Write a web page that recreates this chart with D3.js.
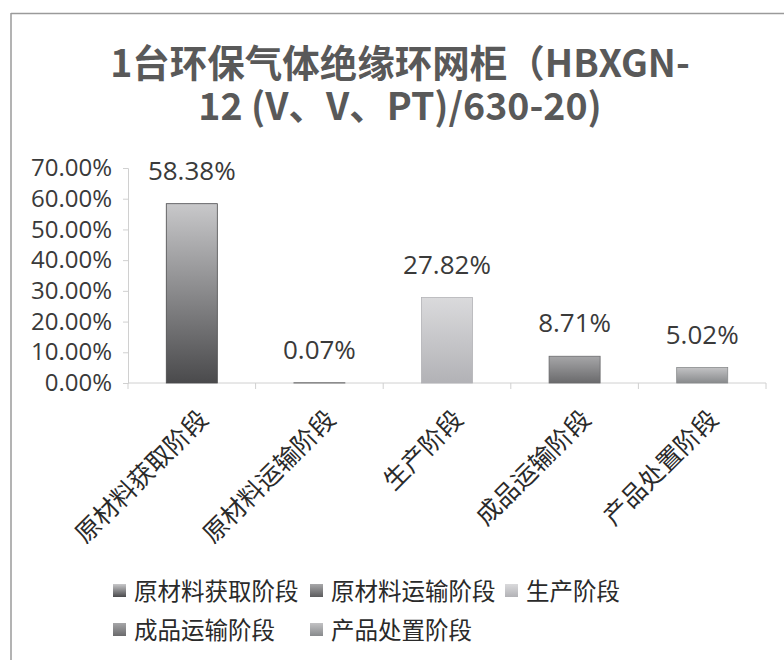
<!DOCTYPE html>
<html>
<head>
<meta charset="utf-8">
<script src="https://cdn.jsdelivr.net/npm/d3@7"></script>
<style>
  body { margin: 0; background: #fff; }
  text { font-family: "Noto Sans CJK SC", "Noto Sans", sans-serif; }
</style>
</head>
<body>
<div id="chart"></div>
<script>
// chart data
var categories = ["原材料获取阶段", "原材料运输阶段", "生产阶段", "成品运输阶段", "产品处置阶段"];
var values = [0.5838, 0.0007, 0.2782, 0.0871, 0.0502];
var yTicks = [0, 0.1, 0.2, 0.3, 0.4, 0.5, 0.6, 0.7];
var titleLines = ["1台环保气体绝缘环网柜（HBXGN-", "12 (V、V、PT)/630-20)"];
// grey gradients as they come out of the scan: [top, bottom]
var barShades = [["#c8c8ca", "#4a4a4c"], ["#a8a8aa", "#5c5c5e"], ["#dadadc", "#b2b2b6"], ["#a6a6a8", "#6a6a6c"], ["#c2c2c4", "#888a8c"]];

var w = 784, h = 660;
var svg = d3.select("#chart").append("svg").attr("width", w).attr("height", h);
var defs = svg.append("defs");

// frame lines from the scanned page
svg.append("line").attr("x1", 11).attr("x2", 784).attr("y1", 13.5).attr("y2", 13.5)
  .attr("stroke", "#9a9a9a").attr("stroke-width", 1.5);
svg.append("line").attr("x1", 11).attr("x2", 11).attr("y1", 13).attr("y2", 660)
  .attr("stroke", "#9a9a9a").attr("stroke-width", 1.5);

// title, two lines in one text element
svg.append("text")
  .attr("text-anchor", "middle")
  .style("font-size", "37.5px")
  .style("font-weight", "bold")
  .attr("fill", "#595959")
  .selectAll("tspan").data(titleLines).enter().append("tspan")
  .attr("x", 400)
  .attr("y", function(d, i) { return 77 + i * 43; })
  .text(function(d) { return d; });

var x = d3.scaleBand().domain(categories).range([128, 766]).paddingInner(0.6).paddingOuter(0.3);
var y = d3.scaleLinear().domain([0, 0.7]).range([383, 168]);

// y axis
var yAxis = svg.append("g")
  .attr("transform", "translate(128,0)")
  .call(d3.axisLeft(y).tickValues(yTicks).tickFormat(d3.format(".2%")).tickSize(5).tickPadding(11));
yAxis.select(".domain").attr("stroke", "#d0d0d0");
yAxis.selectAll(".tick line").attr("stroke", "#d0d0d0");
yAxis.selectAll(".tick text")
  .style("font-family", "'Open Sans', 'Noto Sans', sans-serif")
  .style("font-size", "24px")
  .attr("fill", "#3a3a3a");

// x axis baseline and category separators
var step = x.step();
var edges = categories.map(function(c) { return x(c) - step * x.paddingInner() / 2; });
edges.push(x.range()[1]);
svg.append("line").attr("x1", 128).attr("x2", 766).attr("y1", y(0)).attr("y2", y(0))
  .attr("stroke", "#d0d0d0");
svg.append("g").selectAll("line").data(edges).enter().append("line")
  .attr("x1", function(d) { return d; }).attr("x2", function(d) { return d; })
  .attr("y1", y(0)).attr("y2", y(0) + 6)
  .attr("stroke", "#d0d0d0");

// gradients
barShades.forEach(function(s, i) {
  var g = defs.append("linearGradient").attr("id", "grad" + i)
    .attr("x1", 0).attr("x2", 0).attr("y1", 0).attr("y2", 1);
  g.append("stop").attr("offset", "0%").attr("stop-color", s[0]);
  g.append("stop").attr("offset", "100%").attr("stop-color", s[1]);
});

// bars
svg.append("g").selectAll("rect").data(values).enter().append("rect")
  .attr("x", function(d, i) { return x(categories[i]); })
  .attr("y", function(d) { return y(d); })
  .attr("width", x.bandwidth())
  .attr("height", function(d) { return y(0) - y(d); })
  .attr("fill", function(d, i) { return "url(#grad" + i + ")"; })
  .attr("stroke", function(d, i) { return barShades[i][1]; })
  .attr("stroke-width", 0.8);

// value labels
svg.append("g").selectAll("text").data(values).enter().append("text")
  .attr("x", function(d, i) { return x(categories[i]) + x.bandwidth() / 2; })
  .attr("y", function(d) { return y(d) - 24; })
  .attr("text-anchor", "middle")
  .style("font-family", "'Open Sans', 'Noto Sans', sans-serif")
  .style("font-size", "26px")
  .attr("fill", "#3a3a3a")
  .text(function(d) { return d3.format(".2%")(d); });

// rotated category labels
svg.append("g").selectAll("text").data(categories).enter().append("text")
  .attr("transform", function(d) {
    return "translate(" + (x(d) + x.bandwidth() / 2 + 10) + "," + 413 + ") rotate(-45)";
  })
  .attr("text-anchor", "end")
  .attr("dominant-baseline", "central")
  .style("font-size", "25px")
  .attr("fill", "#2a2a2a")
  .text(function(d) { return d; });

// legend
var legendPos = [[113, 590], [310, 590], [505, 590], [113, 629], [310, 629]];
var legend = svg.append("g").selectAll("g").data(categories).enter().append("g")
  .attr("transform", function(d, i) { return "translate(" + legendPos[i][0] + "," + legendPos[i][1] + ")"; });
legend.append("rect")
  .attr("x", 0).attr("y", -6).attr("width", 13).attr("height", 13)
  .attr("fill", function(d, i) { return "url(#grad" + i + ")"; });
legend.append("text")
  .attr("x", 21).attr("y", 0)
  .attr("dominant-baseline", "central")
  .style("font-size", "23.5px")
  .attr("fill", "#2a2a2a")
  .text(function(d) { return d; });
</script>
</body>
</html>
